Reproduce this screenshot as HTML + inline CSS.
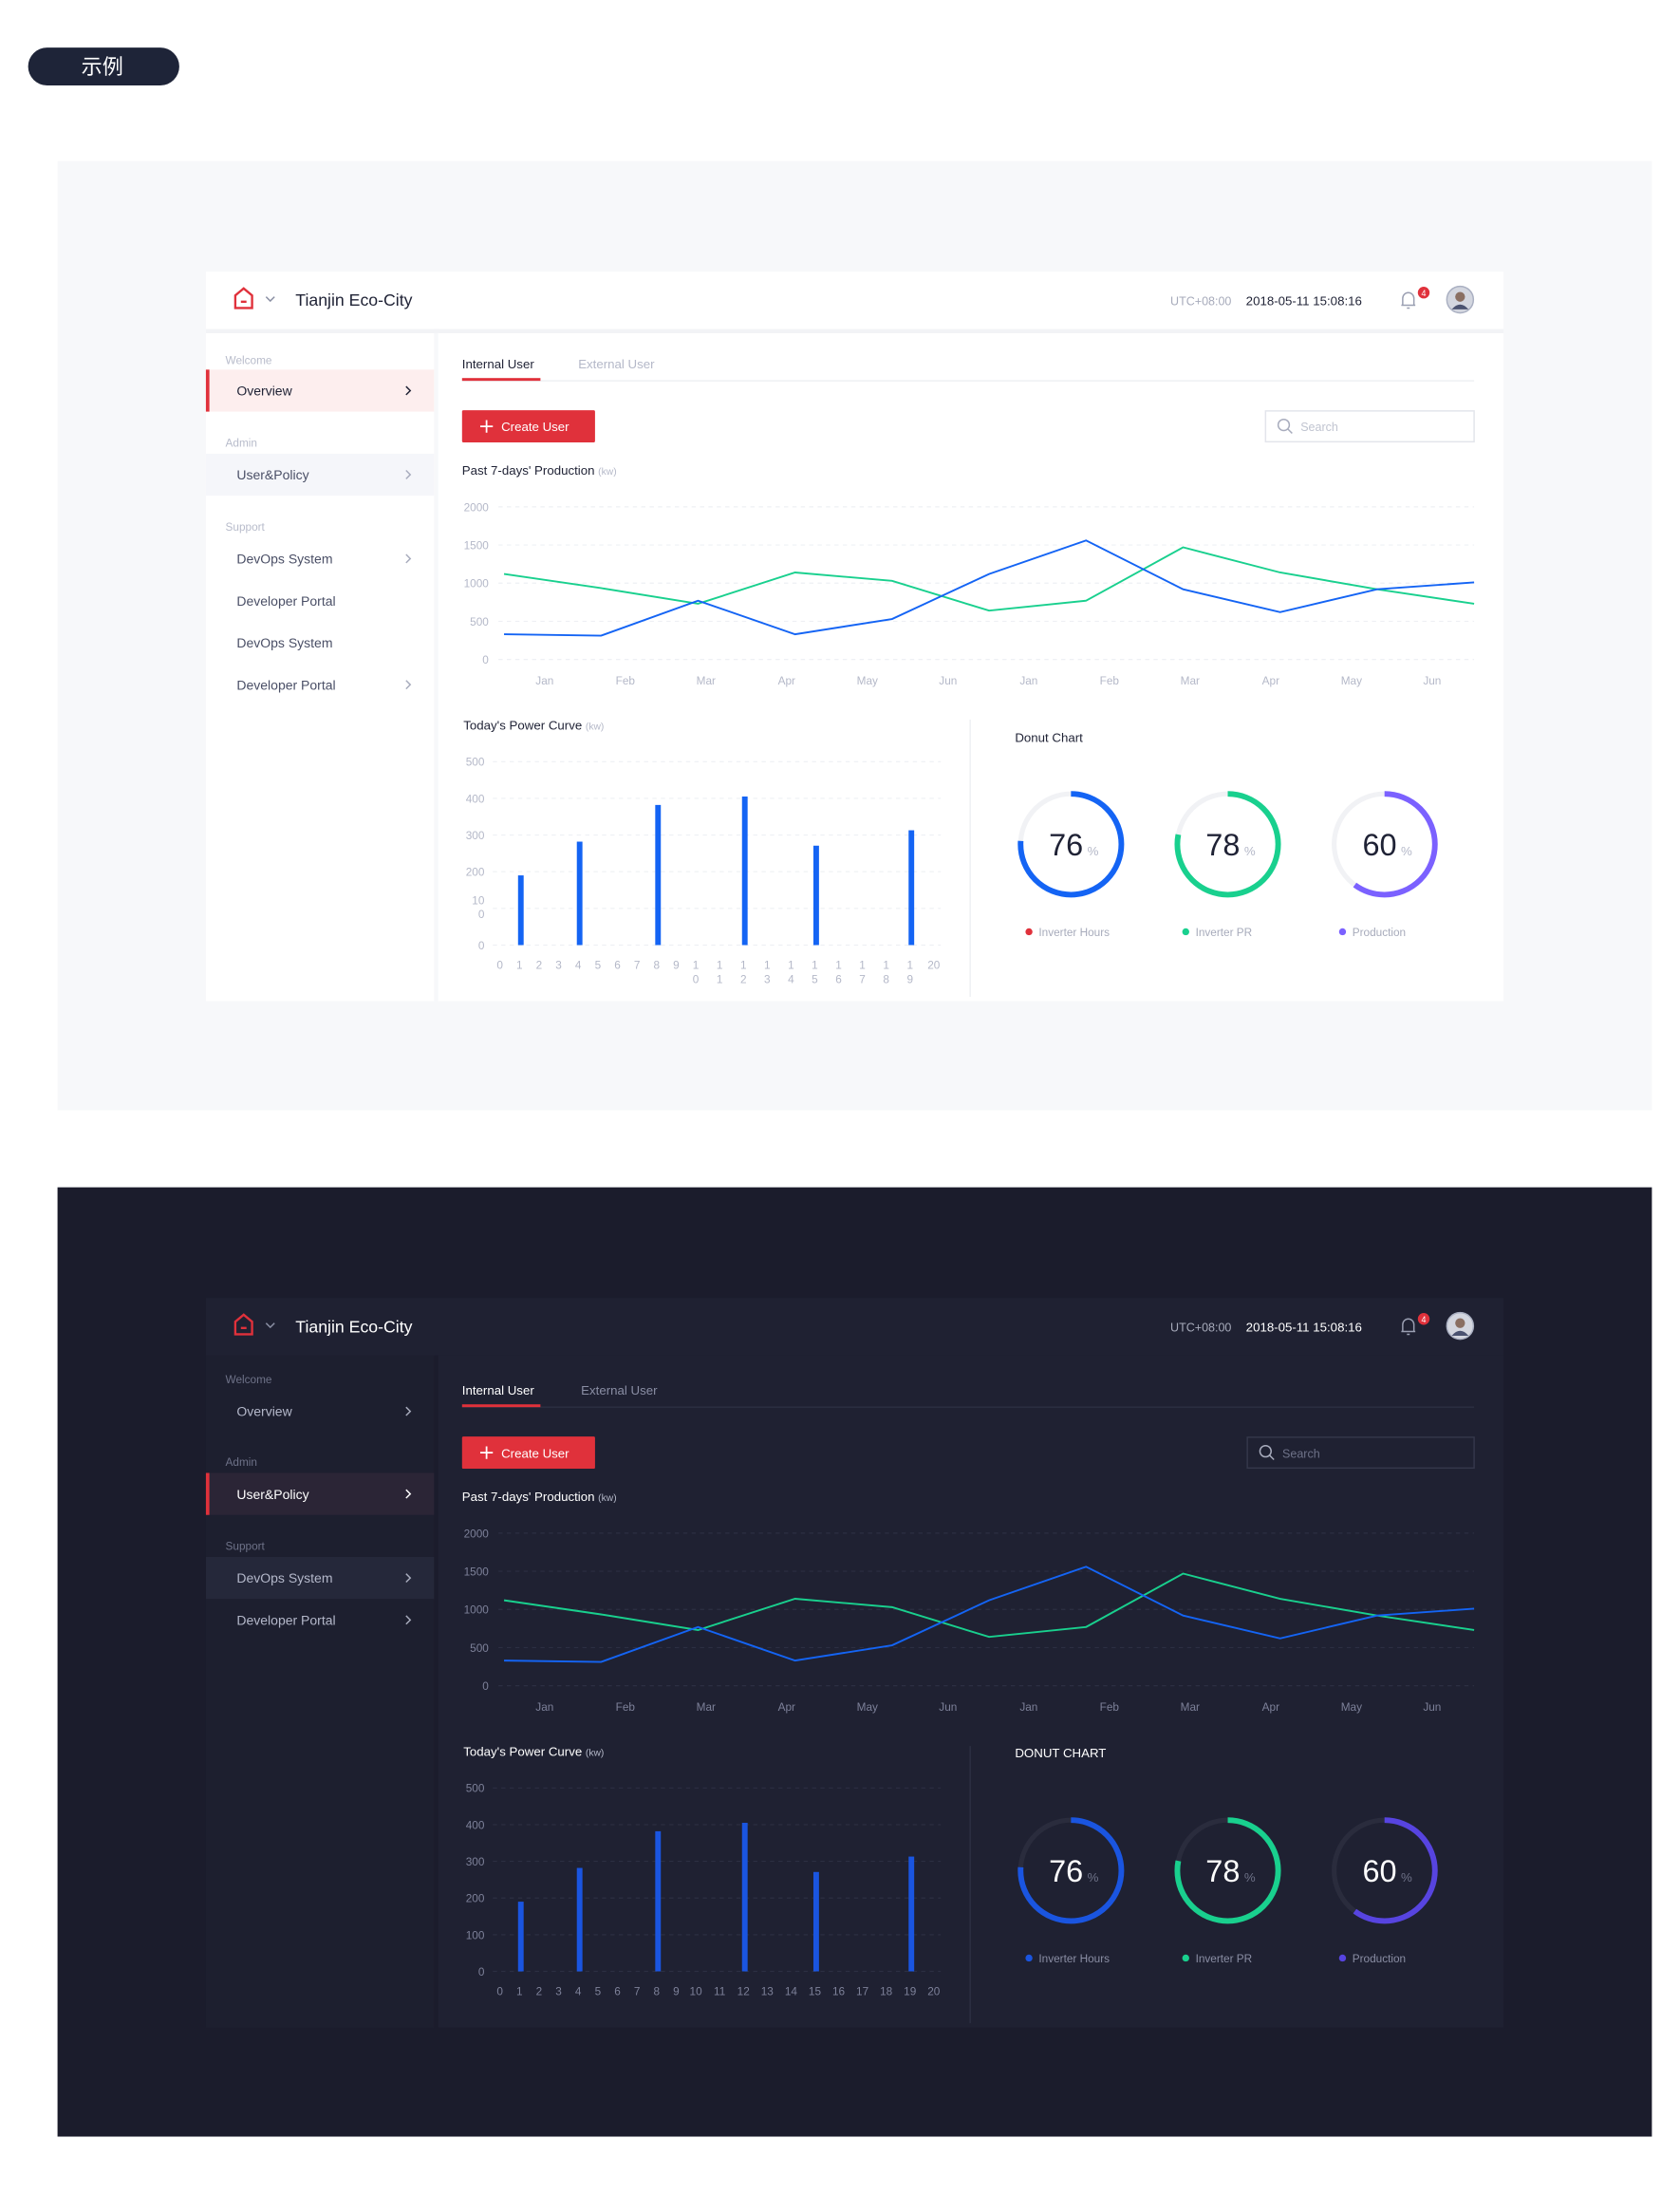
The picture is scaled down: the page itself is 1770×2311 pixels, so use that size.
<!DOCTYPE html>
<html><head><meta charset="utf-8">
<style>
html,body{margin:0;padding:0;background:#fff;}
svg{display:block;font-family:"Liberation Sans","Noto Sans CJK SC",sans-serif;}
</style></head>
<body>
<svg id="root" width="1770" height="2311" viewBox="0 0 1200 1567" xmlns="http://www.w3.org/2000/svg"></svg>
<script>
// ---- chart data ----
const lineCategories = ['Jan','Feb','Mar','Apr','May','Jun','Jan','Feb','Mar','Apr','May','Jun'];
const blueSeries = [330, 312, 770, 330, 530, 1120, 1560, 920, 620, 920, 1010];
const greenSeries = [1120, 935, 730, 1140, 1030, 640, 770, 1470, 1140, 920, 730];
const lineTicks = [0, 500, 1000, 1500, 2000];
const barIndex = [1, 4, 8, 12, 15, 19];
const barValues = [190, 282, 382, 405, 271, 313];
const barTicks = [0, 100, 200, 300, 400, 500];
const barCategories = [0,1,2,3,4,5,6,7,8,9,10,11,12,13,14,15,16,17,18,19,20];
const donutValues = [76, 78, 60];
const donutLabels = ['Inverter Hours', 'Inverter PR', 'Production'];

const NS = 'http://www.w3.org/2000/svg';
const root = document.getElementById('root');
function add(parent, tag, attrs, name, inter, text) {
  const el = document.createElementNS(NS, tag);
  for (const k in attrs) el.setAttribute(k, attrs[k]);
  
  
  if (text !== undefined) el.textContent = text;
  parent.appendChild(el);
  return el;
}

add(root, 'rect', {x:0,y:0,width:1200,height:1567,fill:'#ffffff'}, 'page-background', false);
add(root, 'rect', {x:20,y:34,width:108,height:27,rx:13.5,fill:'#1e2438'}, 'example-badge', false);
add(root, 'text', {x:73,y:53,'font-size':15,fill:'#fff','text-anchor':'middle'}, 'example-badge-label', false, '示例');
add(root, 'rect', {x:41,y:115,width:1139,height:678,fill:'#f7f8fa'}, 'light-theme-section', false);
add(root, 'rect', {x:41,y:848,width:1139,height:678,fill:'#1b1c2c'}, 'dark-theme-section', false);

function panel(o, dark) {
  const g = add(root, 'g', {transform:'translate(0,'+o+')'}, dark ? 'dark-dashboard' : 'light-dashboard', false);
  const C = dark ? {
    header:'#1f2132', side:'#1d1f2f', content:'#1f2132', title:'#ffffff', text:'#b4b8ca', strong:'#ffffff',
    muted:'#6e7288', grid:'#2c2f42', axis:'#7d8199', track:'#2a2c3d', num:'#ffffff', border:'#34374a'
  } : {
    header:'#ffffff', side:'#ffffff', content:'#ffffff', title:'#1f2235', text:'#4a4f66', strong:'#1f2235',
    muted:'#b8bccb', grid:'#eef0f4', axis:'#b4b8c8', track:'#f1f2f5', num:'#1f2235', border:'#e3e5eb'
  };
  add(g, 'rect', {x:147,y:235,width:163,height:480,fill:C.side}, 'sidebar', false);
  add(g, 'rect', {x:313,y:235,width:761,height:480,fill:C.content}, 'content-area', false);
  add(g, 'rect', {x:147,y:194,width:927,height:41,fill:C.header}, 'top-header', false);
  if (!dark) add(g, 'rect', {x:147,y:235,width:927,height:3,fill:'#f2f3f6'}, 'header-shadow', false);
  // header
  add(g, 'path', {d:'M168 220 V211 L174 206 L180 211 V220 Z M172 215.5 H176',stroke:'#e0313b','stroke-width':1.6,fill:'none'}, 'home-icon', true);
  add(g, 'polyline', {points:'190,212 193,215 196,212',stroke:'#8a8fa3','stroke-width':1,fill:'none'}, 'site-dropdown-chevron', true);
  add(g, 'text', {x:211,y:218.5,'font-size':12,fill:C.title}, 'site-title', false, 'Tianjin Eco-City');
  add(g, 'text', {x:836,y:218,'font-size':8.5,fill:'#a7abbb'}, 'timezone-label', false, 'UTC+08:00');
  add(g, 'text', {x:890,y:218,'font-size':9,fill:C.strong}, 'datetime-label', false, '2018-05-11  15:08:16');
  add(g, 'path', {d:'M1002 218 V213 a4 4 0 0 1 8 0 V218 Z M1001 218 H1011 M1005 220 H1007',stroke:'#9a9fb2','stroke-width':1,fill:'none'}, 'notification-bell', true);
  add(g, 'circle', {cx:1017,cy:209,r:4.2,fill:'#e0313b'}, 'notification-badge', false);
  add(g, 'text', {x:1017,y:211.5,'font-size':6,fill:'#fff','text-anchor':'middle'}, 'notification-count', false, '4');
  add(g, 'circle', {cx:1043,cy:214,r:9.5,fill:'#d3d6df',stroke:'#aab0c2','stroke-width':1}, 'user-avatar', true);
  add(g, 'circle', {cx:1043,cy:212,r:3.5,fill:'#8a6f62'}, 'avatar-head', false);
  add(g, 'path', {d:'M1037 221 Q1043 214 1049 221',fill:'#4a5270'}, 'avatar-body', false);
  // sidebar
  const items = dark ? [
    ['h','Welcome',252],['i','Overview',275,'n',1],['h','Admin',311],['i','User&Policy',334,'a',1],
    ['h','Support',371],['i','DevOps System',394,'s',1],['i','Developer Portal',424,'n',1]
  ] : [
    ['h','Welcome',257],['i','Overview',279,'a',1],['h','Admin',316],['i','User&Policy',339,'s',1],
    ['h','Support',376],['i','DevOps System',399,'n',1],['i','Developer Portal',429,'n',0],
    ['i','DevOps System',459,'n',0],['i','Developer Portal',489,'n',1]
  ];
  items.forEach(it => {
    const slug = it[1].toLowerCase().replace(/[^a-z]+/g,'-');
    if (it[0] === 'h') {
      add(g, 'text', {x:161,y:it[2]+3,'font-size':8,fill:dark?'#6e7288':'#b8bccb'}, 'sidebar-section-' + slug, false, it[1]);
      return;
    }
    const y = it[2];
    if (it[3] === 'a') {
      add(g, 'rect', {x:147,y:y-15,width:163,height:30,fill:dark?'#2b2536':'#fdeeee'}, 'sidebar-active-bg', false);
      add(g, 'rect', {x:147,y:y-15,width:2.5,height:30,fill:'#e0313b'}, 'sidebar-active-indicator', false);
    } else if (it[3] === 's') {
      add(g, 'rect', {x:147,y:y-15,width:163,height:30,fill:dark?'#25283a':'#f5f6fa'}, 'sidebar-hover-bg', false);
    }
    add(g, 'text', {x:169,y:y+3.5,'font-size':9.5,fill:it[3]==='a'?C.strong:C.text}, 'sidebar-item-' + slug, true, it[1]);
    if (it[4]) add(g, 'polyline', {points:'290,'+(y-3)+' 293,'+y+' 290,'+(y+3),stroke:it[3]==='a'?C.strong:'#a8acbd','stroke-width':1,fill:'none'}, 'sidebar-chevron', false);
  });
  // tabs
  add(g, 'text', {x:330,y:263,'font-size':9,fill:C.strong}, 'tab-internal-user', true, 'Internal User');
  add(g, 'text', {x:dark?415:413,y:263,'font-size':9,fill:dark?'#8a8ea4':'#b4b8c8'}, 'tab-external-user', true, 'External User');
  add(g, 'rect', {x:330,y:271.5,width:1053-330,height:1,fill:C.grid}, 'tab-baseline', false);
  add(g, 'rect', {x:330,y:270,width:56,height:2,fill:'#e0313b'}, 'tab-active-underline', false);
  // button & search
  add(g, 'rect', {x:330,y:293,width:95,height:23,fill:'#e0313b',rx:1}, 'create-user-button', true);
  add(g, 'path', {d:'M343 304.5 H352 M347.5 300 V309',stroke:'#fff','stroke-width':1.2}, 'create-user-plus-icon', false);
  add(g, 'text', {x:358,y:308,'font-size':9,fill:'#fff'}, 'create-user-label', false, 'Create User');
  const sx = dark ? 891 : 904;
  add(g, 'rect', {x:sx,y:293.5,width:1053-sx,height:22,fill:'none',stroke:C.border,'stroke-width':1}, 'search-input', true);
  add(g, 'circle', {cx:sx+13,cy:303.5,r:4,fill:'none',stroke:'#a8acbd','stroke-width':1}, 'search-icon', false);
  add(g, 'path', {d:'M'+(sx+16)+' 306.5 l3 3',stroke:'#a8acbd','stroke-width':1}, 'search-icon-handle', false);
  add(g, 'text', {x:sx+25,y:308,'font-size':8.5,fill:dark?'#6e7288':'#c0c4d0'}, 'search-placeholder', false, 'Search');
  // line chart
  const t1 = add(g, 'text', {x:330,y:339,'font-size':9,fill:C.strong}, 'line-chart-title', false, "Past 7-days' Production ");
  add(t1, 'tspan', {'font-size':7,fill:'#b4b8c8'}, 'line-chart-unit', false, '(kw)');
  const lx0 = 360, lx1 = 1053, ly0 = 471, ly1 = 362;
  const ly = v => ly0 - (v / 2000) * (ly0 - ly1);
  const lxp = i => lx0 + i * (lx1 - lx0) / (blueSeries.length - 1);
  const lxc = i => 389 + i * (1023 - 389) / (lineCategories.length - 1);
  lineTicks.forEach(t => {
    add(g, 'line', {x1:356,x2:1053,y1:ly(t),y2:ly(t),stroke:C.grid,'stroke-width':0.8,'stroke-dasharray':'3 3'}, 'line-gridline', false);
    add(g, 'text', {x:349,y:ly(t)+3,'font-size':8,fill:C.axis,'text-anchor':'end'}, 'line-y-tick', false, String(t));
  });
  lineCategories.forEach((c, i) => {
    add(g, 'text', {x:lxc(i),y:489,'font-size':8,fill:C.axis,'text-anchor':'middle'}, 'line-x-tick', false, c);
  });
  add(g, 'polyline', {points:greenSeries.map((v,i)=>lxp(i)+','+ly(v)).join(' '),fill:'none',stroke:'#19d08e','stroke-width':1.3}, 'green-production-line', false);
  add(g, 'polyline', {points:blueSeries.map((v,i)=>lxp(i)+','+ly(v)).join(' '),fill:'none',stroke:'#1464f4','stroke-width':1.3}, 'blue-production-line', false);
  // bar chart
  const t2 = add(g, 'text', {x:331,y:521,'font-size':9,fill:C.strong}, 'bar-chart-title', false, "Today's Power Curve ");
  add(t2, 'tspan', {'font-size':7,fill:'#b4b8c8'}, 'bar-chart-unit', false, '(kw)');
  const by0 = 675, by1 = 544;
  const by = v => by0 - (v / 500) * (by0 - by1);
  const bx = i => i <= 10 ? 357 + i * 14 : 497 + (i - 10) * 17;
  barTicks.forEach(t => {
    add(g, 'line', {x1:352,x2:672,y1:by(t),y2:by(t),stroke:C.grid,'stroke-width':0.8,'stroke-dasharray':'3 3'}, 'bar-gridline', false);
    if (!dark && t === 100) {
      add(g, 'text', {x:346,y:by(t)-3,'font-size':8,fill:C.axis,'text-anchor':'end'}, 'bar-y-tick', false, '10');
      add(g, 'text', {x:346,y:by(t)+7,'font-size':8,fill:C.axis,'text-anchor':'end'}, 'bar-y-tick', false, '0');
    } else {
      add(g, 'text', {x:346,y:by(t)+3,'font-size':8,fill:C.axis,'text-anchor':'end'}, 'bar-y-tick', false, String(t));
    }
  });
  barCategories.forEach(c => {
    const s = String(c);
    if (!dark && s.length === 2 && c !== 20) {
      add(g, 'text', {x:bx(c),y:692,'font-size':8,fill:C.axis,'text-anchor':'middle'}, 'bar-x-tick', false, s[0]);
      add(g, 'text', {x:bx(c),y:702,'font-size':8,fill:C.axis,'text-anchor':'middle'}, 'bar-x-tick', false, s[1]);
    } else {
      add(g, 'text', {x:bx(c),y:692,'font-size':8,fill:C.axis,'text-anchor':'middle'}, 'bar-x-tick', false, s);
    }
  });
  barIndex.forEach((idx, k) => {
    const v = barValues[k];
    add(g, 'rect', {x:bx(idx)-1,y:by(v),width:4,height:by(0)-by(v),fill:dark?'#1a55e0':'#1464f4'}, 'power-bar-' + idx, false);
  });
  add(g, 'line', {x1:693,x2:693,y1:514,y2:712,stroke:C.grid,'stroke-width':1}, 'chart-divider', false);
  // donuts
  add(g, 'text', {x:725,y:dark?522:530,'font-size':9,fill:C.strong}, 'donut-chart-title', false, dark ? 'DONUT CHART' : 'Donut Chart');
  const dcx = [765, 877, 989];
  const arcCol = [dark?'#1a55e0':'#1464f4', '#19d08e', dark?'#5744e0':'#7b61ff'];
  const dotCol = [dark?'#1a55e0':'#e0313b', '#19d08e', dark?'#5744e0':'#7b61ff'];
  const R = 36, circ = 2 * Math.PI * R;
  donutValues.forEach((v, i) => {
    const cx = dcx[i], cy = 603;
    add(g, 'circle', {cx:cx,cy:cy,r:R,fill:'none',stroke:C.track,'stroke-width':3.5}, 'donut-track', false);
    add(g, 'circle', {cx:cx,cy:cy,r:R,fill:'none',stroke:arcCol[i],'stroke-width':4,
      'stroke-dasharray':(v/100*circ)+' '+circ,transform:'rotate(-90 '+cx+' '+cy+')'}, 'donut-arc-' + i, false);
    const tx = add(g, 'text', {x:cx+2,y:611,'font-size':22,fill:C.num,'text-anchor':'middle'}, 'donut-value', false, String(v));
    add(tx, 'tspan', {'font-size':9,fill:dark?'#6e7288':'#b4b8c8',dx:3}, 'donut-percent-sign', false, '%');
    add(g, 'circle', {cx:cx-30,cy:665.5,r:2.5,fill:dotCol[i]}, 'legend-dot', false);
    add(g, 'text', {x:cx-23,y:668.5,'font-size':8,fill:dark?'#8a8ea4':'#a7abbb'}, 'legend-label', false, donutLabels[i]);
  });
}
panel(0, false);
panel(733, true);
</script>
</body></html>
